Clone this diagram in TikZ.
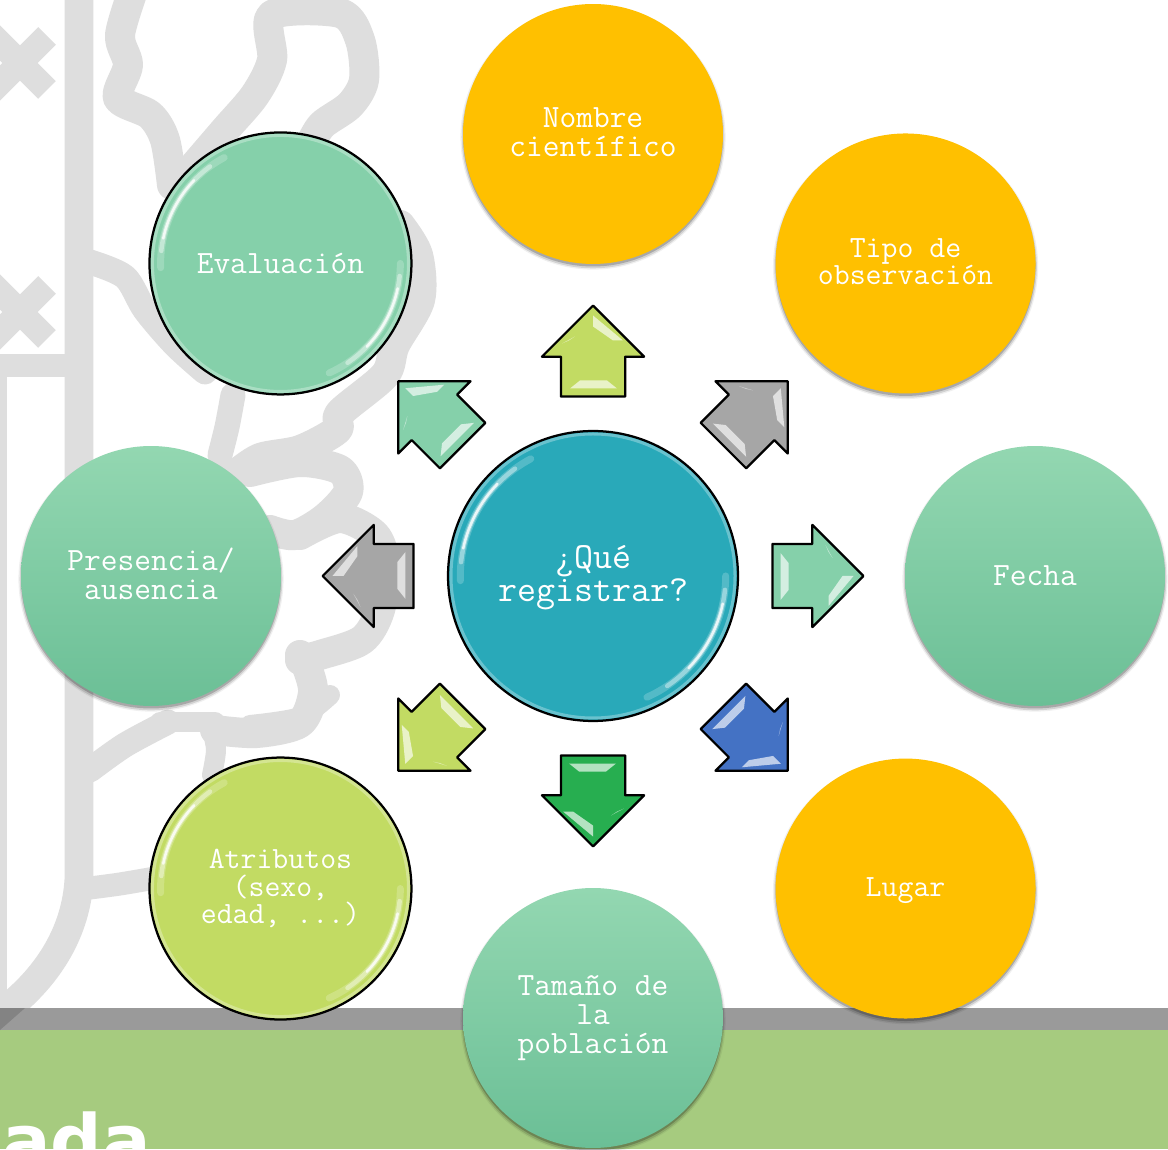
\documentclass[tikz,border=0pt]{standalone}
\usepackage{fontspec}
\usetikzlibrary{shapes.arrows,shadows}
\definecolor{orangeC}{HTML}{FFC000}
\definecolor{greenC}{HTML}{85D0AA}
\definecolor{limeC}{HTML}{C2DB63}
\definecolor{tealC}{HTML}{29A9B9}
\definecolor{greyC}{HTML}{A6A6A6}
\definecolor{blueC}{HTML}{4472C4}
\definecolor{darkC}{HTML}{27AE50}
\definecolor{emblemC}{HTML}{DEDEDE}
\definecolor{stripC}{HTML}{9A9A9A}
\definecolor{bandC}{HTML}{A6CB7F}
\definecolor{gradtop}{HTML}{93D7B1}
\definecolor{gradmid}{HTML}{7FD1A6}
\definecolor{gradbot}{HTML}{6BBF96}
\tikzset{
softshadow/.style={
 general shadow={fill=black,opacity=.06,shadow yshift=-.06cm,shadow scale=1.02},
 general shadow={fill=black,opacity=.12,shadow yshift=-.06cm,shadow scale=1.01},
 general shadow={fill=black,opacity=.2,shadow yshift=-.05cm,shadow scale=1}},
ball/.style={circle,minimum size=5.2cm,inner sep=0,align=center,text=white,
 font=\fontsize{18.5}{16.3}\selectfont\ttfamily},
smalltext/.style={font=\fontsize{17.6}{15.7}\selectfont\ttfamily},
flatball/.style={ball,softshadow,fill=orangeC},
smallflat/.style={flatball,smalltext},
gradball/.style={ball,softshadow,shading=axis,top color=gradtop,middle color=gradmid,bottom color=gradbot},
button/.style={ball,draw=black,line width=.045cm,minimum size=5.24cm},
dirarrow/.style={single arrow,draw=black,line width=.045cm,line join=round,inner xsep=0,inner ysep=.62cm,
 minimum height=1.82cm,minimum width=2cm,single arrow head extend=.38cm,single arrow head indent=0cm,anchor=tip},
emblem/.style={draw=emblemC,line width=.6cm,line join=round,line cap=round},
}
\begin{document}
\begin{tikzpicture}[x=.02cm,y=.02cm]
\clip (0,0) rectangle (1168,1149);
\fill[white] (0,0) rectangle (1168,1149);
% emblem behind everything, typed from the top of the picture
\begin{scope}[shift={(0,1149)},y=-.02cm]
\draw[emblem,line width=.58cm] (79,-15)--(79,880) .. controls (76,930) and (50,975) .. (5,1010);
\draw[emblem,line width=.16cm] (3,375)--(3,1000);
\draw[emblem,line width=.46cm] (0,366)--(70,366);
\foreach \cy in {63,312}{\draw[emblem,line width=.5cm,line cap=butt] (-20,\cy-40)--(47,\cy+27) (-20,\cy+40)--(47,\cy-27);}
\draw[emblem] plot[smooth] coordinates {(135,-15) (120,35) (128,65) (118,98) (150,115) (165,140) (172,185)};
\draw[emblem] plot[smooth] coordinates {(195,165) (225,130) (255,95) (272,60) (272,15) (340,13) (360,40) (364,80) (350,105) (322,125) (310,145)};
\draw[emblem,line width=.5cm] plot[smooth] coordinates {(90,262) (125,277) (145,310) (175,345) (205,372)};
\draw[emblem] plot[smooth] coordinates {(400,225) (418,255) (420,300) (395,345) (385,375) (340,413) (337,430) (300,450) (260,458) (235,475)};
\draw[emblem,line width=.5cm] plot[smooth] coordinates {(233,395) (227,427) (220,455)};
% ring round the white lobe and the lobe behind the left arrow
\draw[emblem] plot[smooth] coordinates {(250,472) (300,462) (340,470) (348,492) (325,518) (295,535) (270,530)};
\draw[emblem] plot[smooth] coordinates {(300,535) (340,518) (375,535) (385,565) (380,610) (362,640) (320,655) (300,660)};
\draw[emblem] plot[smooth] coordinates {(300,655) (307,667) (313,693) (300,723) (257,733) (215,730)};
\draw[emblem,line width=.4cm] plot[smooth] coordinates {(212,730) (216,750) (212,775)};
\draw[emblem,line width=.4cm] plot[smooth] coordinates {(160,722) (215,722)};
\draw[emblem,line width=.4cm] plot[smooth] coordinates {(250,725) (300,717) (330,695)};
\draw[emblem,line width=.5cm] plot[smooth] coordinates {(90,770) (125,745) (168,722)};
\draw[emblem,line width=.46cm] plot[smooth] coordinates {(90,888) (120,884) (155,878)};
\end{scope}
% bottom band
\fill[stripC] (0,119) rectangle (1168,141);
\fill[bandC] (0,0) rectangle (1168,119);
\fill[stripC!85!black] (0,141) -- (25,141) -- (0,119) -- cycle;
\node[anchor=base west,inner sep=0,text=white,font=\fontsize{41}{41}\selectfont\fontspec{DejaVu Sans Bold}] (titleend) at (2,-17) {ada};
% centre and ring
\node[button,fill=tealC,minimum size=5.8cm,font=\fontsize{21}{18.8}\selectfont\ttfamily] (hub) at (593,573) {\rule{0pt}{.52cm}¿Qué\\registrar?};
\foreach \n/\a/\s/\t in {nombre/90/flatball/{Nombre\\científico\rule[-.08cm]{0pt}{0pt}},tipo/45/smallflat/{Tipo de\\observación\rule[-.08cm]{0pt}{0pt}},
 fecha/0/gradball/{Fecha},lugar/-45/smallflat/{\rule{0pt}{.47cm}Lugar},tamano/-90/gradball/{Tamaño de\\la\\población},
 presencia/180/gradball/{Presencia/\\ausencia\rule[-.08cm]{0pt}{0pt}}}
 {\node[\s] (\n) at ([shift={(\a:442)}]hub) {\t};}
\node[button,fill=limeC,smalltext] (atributos) at ([shift={(-135:442)}]hub) {Atributos\\(sexo,\\edad, ...)};
\node[button,fill=greenC] (evaluacion) at ([shift={(135:442)}]hub) {Evaluación};
% gloss of the three buttons
\foreach \b/\r in {hub/145,atributos/131,evaluacion/131}{
\begin{scope}[shift={(\b)}]
\pgfmathsetmacro\ra{.915*\r}
\draw[white,opacity=.3,line width=.06cm] (0,0) circle (\r-3);
\foreach \p/\q/\w/\o in {182/118/.14/.2,174/126/.09/.4,168/136/.05/.8,0/-66/.14/.2,-6/-56/.09/.4,-12/-44/.05/.8}{
\draw[white,opacity=\o,line width=\w cm,line cap=round] (\p:\ra) arc[start angle=\p,end angle=\q,radius=\ra];}
\end{scope}}
% direction arrows with their bevels
\foreach \n/\a/\r/\c in {aN/90/272/limeC,aNE/45/277/greyC,aE/0/272/greenC,aSE/-45/277/blueC,
 aS/-90/272/darkC,aSW/-135/277/limeC,aW/180/272/greyC,aNW/135/277/greenC}{
\node[dirarrow,fill=\c,rotate=\a] (\n) at ([shift={(\a:\r)}]hub) {};
\begin{scope}[shift={(\n.tip)},rotate=\a-90,yshift=-.91cm]
\fill[white,fill opacity=.65] (-23,-39)--(24,-39)--(14,-31)--(-13,-31)--cycle;
\fill[white,fill opacity=.65] (0,34)--(30,9)--(20,9)--(0,23)--cycle;
\fill[white,fill opacity=.5] (-31,6)--(-18,13)--(-24,9)--cycle;
\end{scope}}
\end{tikzpicture}
\end{document}
